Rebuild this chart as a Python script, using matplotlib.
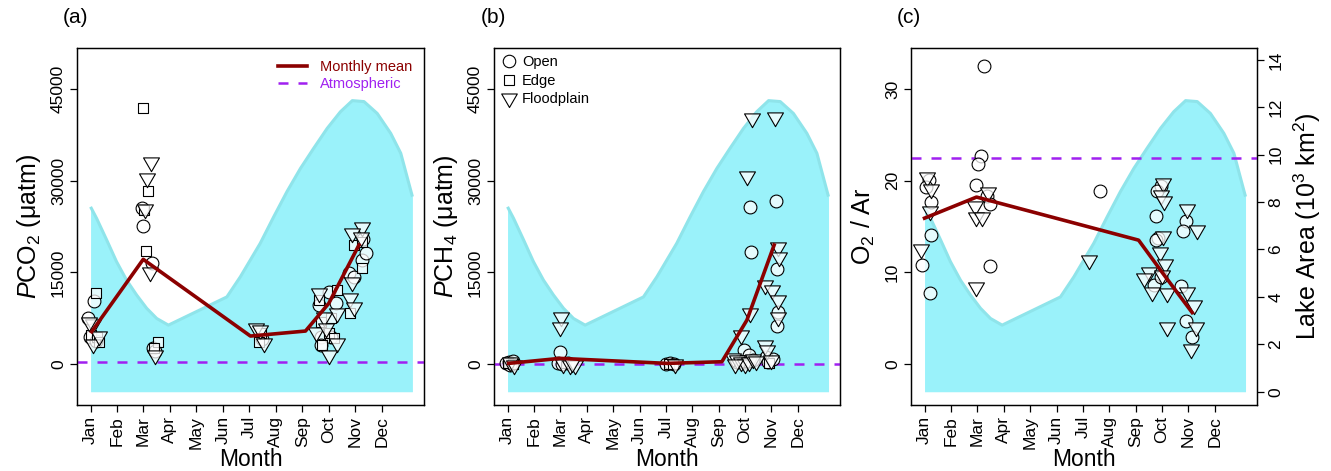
"""
Seasonal PCO2, PCH4 and O2/Ar against lake area.
Saves out.png.
"""

import matplotlib
matplotlib.use("Agg")
import matplotlib.pyplot as plt
from matplotlib.lines import Line2D
from matplotlib.path import Path

plt.rcParams["font.family"] = ["Liberation Sans", "DejaVu Sans"]
plt.rcParams["mathtext.fontset"] = "custom"
plt.rcParams["mathtext.rm"] = "Liberation Sans"
plt.rcParams["mathtext.it"] = "Liberation Sans:italic"

MONTHS = ["Jan", "Feb", "Mar", "Apr", "May", "Jun",
          "Jul", "Aug", "Sep", "Oct", "Nov", "Dec"]

# lake area (10^3 km2) (c)
area_month = [1.0, 1.23, 1.61, 1.98, 2.36, 2.74, 3.12, 3.5, 3.94, 6.15,
              6.66, 7.41, 7.92, 8.42, 8.93, 9.43, 9.94, 10.44, 10.89,
              11.33, 11.83, 12.34, 12.72, 13.16]
area_value = [7.8, 7.31, 6.4, 5.49, 4.71, 4.08, 3.52, 3.09, 2.81, 4.0,
              4.85, 6.26, 7.38, 8.44, 9.42, 10.27, 11.11, 11.81, 12.28,
              12.24, 11.74, 10.9, 10.06, 8.23]

# (a) PCO2, uatm
co2_open_x = [1.14, 0.91, 0.98, 1.2, 2.93, 2.97, 3.31, 3.37, 3.45, 7.48,
              10.0, 9.62, 10.26, 9.69, 9.69, 10.07, 11.27, 11.39, 10.76, 10.95, 11.3]
co2_open_y = [10310, 7580, 4400, 3800, 25580, 22640, 16580, 2670, 2200, 4040,
              11840, 9660, 9930, 4470, 3110, 4470, 17020, 18110, 14840, 14290, 20500]
co2_edge_x = [1.2, 1.0, 1.25, 1.3, 2.99, 3.18, 3.02, 3.08, 3.53, 3.4, 7.44, 7.35,
              10.95, 11.27, 11.27, 9.62, 10.32, 10.82, 10.07, 9.69, 10.0, 9.75, 10.19]
co2_edge_y = [11670, 4700, 4500, 3600, 41840, 28370, 25200, 18550, 3650, 2600, 5020, 3650,
              19470, 20020, 15660, 10470, 12110, 8290, 7470, 6930, 5020, 3110, 4200]
co2_flood_x = [1.1, 0.95, 1.1, 1.3, 3.29, 3.12, 3.05, 3.25, 3.43, 7.26, 7.39, 7.54,
               11.27, 10.89, 11.2, 10.89, 9.62, 10.82, 10.95, 10.32, 9.81, 9.5, 9.88,
               10.32, 10.0]
co2_flood_y = [6490, 6800, 3200, 4600, 33110, 30380, 25400, 15110, 1470, 5840, 5560, 3380,
               22470, 21380, 20840, 13470, 11560, 10750, 9380, 8290, 7750, 5290, 5840,
               3380, 1470]
co2_mean_x = [1.04, 2.99, 7.04, 9.12, 10.0, 11.14]
co2_mean_y = [5290, 17130, 4580, 5400, 9930, 19470]
co2_atm = 380

# (b) PCH4, uatm
ch4_open_x = [0.95, 1.05, 1.15, 1.2, 1.1, 2.99, 2.9, 3.05, 3.3, 7.0, 7.15, 7.3,
              10.19, 10.23, 9.94, 10.13, 9.7, 10.0, 10.3,
              11.16, 11.2, 11.23, 11.2, 10.8, 10.85, 11.05]
ch4_open_y = [100, 300, 200, 500, -100, 2020, 200, 0, 100, 0, 100, -50,
              25750, 18270, 2290, 1470, 300, 400, 600,
              26730, 15490, 8560, 6220, 1200, 400, 900]
ch4_edge_x = [1.0, 1.2, 3.2, 7.1, 7.25, 9.9, 10.1, 10.9]
ch4_edge_y = [150, 0, 100, 50, 0, 700, 300, 200]
ch4_flood_x = [1.1, 1.25, 3.02, 2.99, 3.1, 3.35, 3.55, 3.45, 7.35,
               10.26, 10.07, 10.17, 9.85, 9.56, 9.7, 9.85, 10.0, 10.15, 10.3, 9.6, 10.4,
               11.14, 11.25, 11.28, 10.76, 11.01, 11.23, 11.23, 10.76, 10.82, 11.0]
ch4_flood_y = [300, -200, 7750, 6110, 0, -100, -150, 200, 0,
               40200, 30770, 8290, 4750, 1000, 700, 300, 0, 400, 800, 0, 500,
               40480, 19200, 17500, 12930, 12110, 10470, 7750, 3110, 2290, 650]
ch4_mean_x = [1.04, 2.99, 7.04, 9.12, 10.07, 11.1]
ch4_mean_y = [110, 930, 110, 380, 7200, 19470]
ch4_atm = 2

# (c) O2/Ar
o2_open_x = [1.18, 1.05, 1.23, 1.23, 0.92, 1.2, 3.27, 3.14, 3.04, 2.95, 3.35, 3.48, 3.48,
             7.66, 9.94, 9.81, 9.78, 9.84, 9.75, 9.68, 9.95,
             10.92, 10.8, 10.72, 10.89, 11.14]
o2_open_y = [20.1, 19.25, 17.65, 14.08, 10.81, 7.79, 32.46, 22.7, 21.8, 19.47, 18.27, 17.43, 10.7,
             18.81, 19.36, 18.81, 16.16, 13.72, 13.54, 8.62, 9.5,
             15.54, 14.52, 8.52, 4.73, 2.91]
o2_edge_x = []
o2_edge_y = []
o2_flood_x = [1.08, 1.23, 1.2, 0.86, 3.42, 2.91, 2.95, 3.16, 2.95, 7.24,
              10.04, 9.94, 10.06, 10.04, 9.91, 10.1, 9.49, 9.3, 9.62, 10.19, 10.19, 10.0,
              10.95, 11.33, 10.95, 11.2, 11.3, 11.1]
o2_flood_y = [20.38, 19.07, 16.63, 12.52, 18.8, 17.18, 16.08, 16.08, 8.44, 11.35,
              19.72, 18.45, 17.72, 13.97, 12.26, 10.92, 10.08, 9.35, 7.9, 7.71, 4.08, 9.7,
              16.88, 14.63, 7.9, 6.44, 4.08, 1.6]
o2_mean_x = [1.0, 2.97, 9.11, 10.05, 11.14]
o2_mean_y = [15.9, 18.2, 13.5, 9.8, 5.6]
o2_atm = 22.5

FILL = "#9af2fa"
EDGE = "#8fe4ea"
MEAN = "#8b0000"
ATM = "#a020f0"
TRI = Path([(-1, 0.577), (1, 0.577), (0, -1.155), (-1, 0.577)], closed=True)
PT_FACE = (1, 1, 1, 0.75)


def draw_panel(ax, open_xy, edge_xy, flood_xy, mean_xy, atm, ylim, yticks, ylabel,
               show_area_axis=False):
    ax_area = ax.twinx()
    ax_area.fill_between(area_month, 0, area_value, color=FILL, lw=0)
    ax_area.plot(area_month, area_value, color=EDGE, lw=2.2, solid_capstyle="butt")
    ax_area.set_ylim(-0.56, 14.5)
    ax.set_zorder(ax_area.get_zorder() + 1)
    ax.patch.set_visible(False)

    ax.axhline(atm, color=ATM, lw=1.8, ls=(0, (4, 4)), zorder=1)
    kw = dict(facecolor=PT_FACE, edgecolor="black", linewidths=0.8, zorder=2)
    ax.scatter(*open_xy, marker="o", s=85, **kw)
    ax.scatter(*edge_xy, marker="s", s=60, **kw)
    ax.scatter(*flood_xy, marker=TRI, s=175, **kw)
    ax.plot(*mean_xy, color=MEAN, lw=2.6, zorder=3)

    ax.set_xlim(0.49, 13.6)
    ax.set_ylim(*ylim)
    ax.set_xticks(range(1, 13))
    ax.set_xticklabels(MONTHS, rotation=90)
    ax.set_yticks(yticks)
    ax.set_yticklabels([str(t) for t in yticks], rotation=90, va="center")
    ax.tick_params(direction="out", length=5, width=0.9, labelsize=12.5, pad=3)
    ax.set_xlabel("Month", fontsize=16.5, va="center")
    ax.xaxis.set_label_coords(0.5, -0.152)
    ax.set_ylabel(ylabel, fontsize=18, labelpad=6)
    for sp in list(ax.spines.values()) + list(ax_area.spines.values()):
        sp.set_linewidth(0.9)

    if show_area_axis:
        ax_area.set_yticks(range(0, 15, 2))
        ax_area.set_yticklabels([str(t) for t in range(0, 15, 2)], rotation=90, va="center")
        ax_area.tick_params(direction="out", length=5, width=0.9, labelsize=12.5, pad=3)
        ax_area.set_ylabel("Lake Area (10$^3$ km$^2$)", fontsize=18, labelpad=6)
    else:
        ax_area.set_yticks([])
    return ax_area


fig = plt.figure(figsize=(13.31, 4.71), dpi=100)
ax_a = fig.add_axes([0.0579, 0.1401, 0.2607, 0.758])
ax_b = fig.add_axes([0.3712, 0.1401, 0.2600, 0.758])
ax_c = fig.add_axes([0.6845, 0.1401, 0.2600, 0.758])

draw_panel(ax_a, (co2_open_x, co2_open_y), (co2_edge_x, co2_edge_y),
           (co2_flood_x, co2_flood_y), (co2_mean_x, co2_mean_y), co2_atm,
           (-6700, 51700), [0, 15000, 30000, 45000], "$\\it{P}$CO$_2$ (μatm)")
draw_panel(ax_b, (ch4_open_x, ch4_open_y), (ch4_edge_x, ch4_edge_y),
           (ch4_flood_x, ch4_flood_y), (ch4_mean_x, ch4_mean_y), ch4_atm,
           (-6700, 51700), [0, 15000, 30000, 45000], "$\\it{P}$CH$_4$ (μatm)")
draw_panel(ax_c, (o2_open_x, o2_open_y), (o2_edge_x, o2_edge_y),
           (o2_flood_x, o2_flood_y), (o2_mean_x, o2_mean_y), o2_atm,
           (-4.48, 34.46), [0, 10, 20, 30], "O$_2$ / Ar", show_area_axis=True)

# legends
line_handles = [Line2D([], [], color=MEAN, lw=2.6),
                Line2D([], [], color=ATM, lw=1.8, ls=(0, (4, 4)))]
ax_a.legend(line_handles, ["Monthly mean", "Atmospheric"], loc="upper right",
            frameon=False, fontsize=10.5, handlelength=2.0, handletextpad=0.9,
            labelspacing=0.25, borderaxespad=0.4, labelcolor="linecolor")

mk = dict(ls="none", markerfacecolor="white", markeredgecolor="black", markeredgewidth=0.8)
site_handles = [Line2D([], [], marker="o", markersize=9, **mk),
                Line2D([], [], marker="s", markersize=7.5, **mk),
                Line2D([], [], marker=TRI, markersize=13, **mk)]
ax_b.legend(site_handles, ["Open", "Edge", "Floodplain"], loc="upper left",
            frameon=False, fontsize=10.5, handlelength=1.0, handletextpad=0.4,
            labelspacing=0.3, borderaxespad=0.1)

for label, x in [("(a)", 0.047), ("(b)", 0.361), ("(c)", 0.674)]:
    fig.text(x, 0.962, label, fontsize=15, va="center", ha="left")

fig.savefig("out.png", dpi=100)
plt.close()
